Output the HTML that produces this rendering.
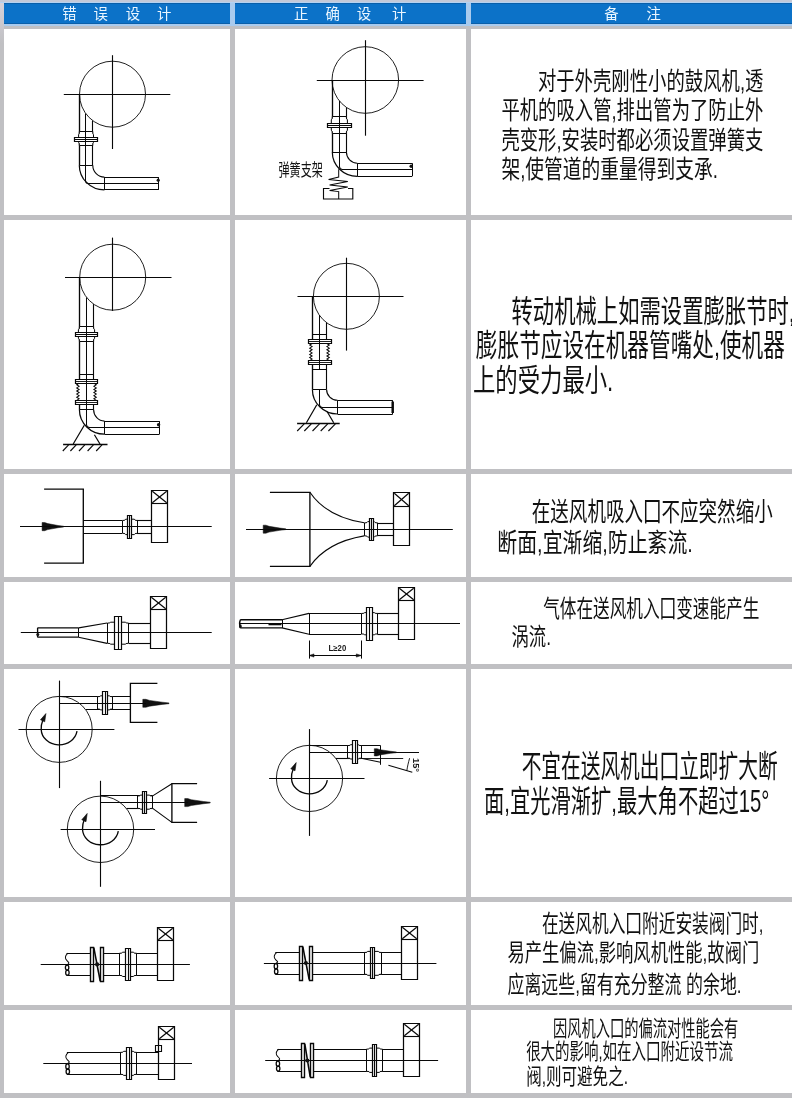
<!DOCTYPE html><html><head><meta charset="utf-8"><title>fan piping</title><style>
html,body{margin:0;padding:0}body{width:792px;height:1098px;position:relative;overflow:hidden;background:#c0c0c3;font-family:"Liberation Sans",sans-serif}
.c{position:absolute;background:#fff}.h{position:absolute;top:3px;height:20.5px;background:#0c72c8;box-shadow:inset 0 1px 0 #0a5fa9,inset 0 -1px 0 #0a5fa9}
.u{position:absolute;top:23.5px;height:2px;background:#a9cbee}
svg{position:absolute;left:0;top:0;filter:blur(0.3px)}
svg text{font-family:"Liberation Sans","Noto Sans CJK SC",sans-serif;stroke:none}
</style></head><body>
<div style="position:absolute;left:0;top:0;width:792px;height:3px;background:#c3c9d8"></div>
<div style="position:absolute;left:0;top:2px;width:792px;height:1px;background:#b4d2f2"></div>
<div style="position:absolute;left:0;top:3px;width:4px;height:40px;background:linear-gradient(#d6d2da,#c0c0c3)"></div>
<div class="h" style="left:4px;width:226px"></div>
<div class="u" style="left:4px;width:226px"></div>
<div class="h" style="left:235px;width:231px"></div>
<div class="u" style="left:235px;width:231px"></div>
<div class="h" style="left:471px;width:321px"></div>
<div class="u" style="left:471px;width:321px"></div>
<div style="position:absolute;left:230px;top:3px;width:5px;height:22.5px;background:#a9cbee"></div>
<div style="position:absolute;left:466px;top:3px;width:5px;height:22.5px;background:#a9cbee"></div>
<div class="c" style="left:4px;top:28.5px;width:226px;height:186.5px"></div>
<div class="c" style="left:235px;top:28.5px;width:231px;height:186.5px"></div>
<div class="c" style="left:471px;top:28.5px;width:321px;height:186.5px"></div>
<div class="c" style="left:4px;top:220px;width:226px;height:249px"></div>
<div class="c" style="left:235px;top:220px;width:231px;height:249px"></div>
<div class="c" style="left:471px;top:220px;width:321px;height:249px"></div>
<div class="c" style="left:4px;top:474px;width:226px;height:103px"></div>
<div class="c" style="left:235px;top:474px;width:231px;height:103px"></div>
<div class="c" style="left:471px;top:474px;width:321px;height:103px"></div>
<div class="c" style="left:4px;top:582px;width:226px;height:82px"></div>
<div class="c" style="left:235px;top:582px;width:231px;height:82px"></div>
<div class="c" style="left:471px;top:582px;width:321px;height:82px"></div>
<div class="c" style="left:4px;top:669px;width:226px;height:228px"></div>
<div class="c" style="left:235px;top:669px;width:231px;height:228px"></div>
<div class="c" style="left:471px;top:669px;width:321px;height:228px"></div>
<div class="c" style="left:4px;top:902px;width:226px;height:103px"></div>
<div class="c" style="left:235px;top:902px;width:231px;height:103px"></div>
<div class="c" style="left:471px;top:902px;width:321px;height:103px"></div>
<div class="c" style="left:4px;top:1010px;width:226px;height:83px"></div>
<div class="c" style="left:235px;top:1010px;width:231px;height:83px"></div>
<div class="c" style="left:471px;top:1010px;width:321px;height:83px"></div>
<svg width="792" height="1098" viewBox="0 0 792 1098">
<g fill="none" stroke="#080808" stroke-linecap="butt" stroke-linejoin="miter">
<text x="62.3" y="19.47" font-size="14.4" fill="#eaf6ff">错</text>
<text x="93.4" y="19.47" font-size="14.4" fill="#eaf6ff">误</text>
<text x="125.8" y="19.47" font-size="14.4" fill="#eaf6ff">设</text>
<text x="157.1" y="19.47" font-size="14.4" fill="#eaf6ff">计</text>
<text x="294.1" y="19.47" font-size="14.4" fill="#eaf6ff">正</text>
<text x="325.4" y="19.47" font-size="14.4" fill="#eaf6ff">确</text>
<text x="356.8" y="19.47" font-size="14.4" fill="#eaf6ff">设</text>
<text x="392.1" y="19.47" font-size="14.4" fill="#eaf6ff">计</text>
<text x="604.3" y="19.47" font-size="14.4" fill="#eaf6ff">备</text>
<text x="646.5" y="19.47" font-size="14.4" fill="#eaf6ff">注</text>
<circle cx="112.5" cy="94.2" r="33.0" stroke-width="0.9"/>
<path d="M63.8 94.5L170.3 94.5" stroke-width="1.12" />
<path d="M112.5 55.2L112.5 149.0" stroke-width="1.12" />
<path d="M79.5 94.2L79.5 165.2" stroke-width="1.34" />
<path d="M92.5 120.7L92.5 165.2" stroke-width="1.12" />
<path d="M79.3 165.5L92.8 165.5" stroke-width="1.01" />
<path d="M79.3 165.2A25.1 24.7 0 0 0 104.4 189.9" stroke-width="1.23" />
<path d="M92.8 165.2A11.6 11.9 0 0 0 104.4 177.1" stroke-width="1.12" />
<path d="M104.5 177.1L104.5 189.9" stroke-width="1.01" />
<path d="M104.4 177.5L158.4 177.5" stroke-width="1.23" />
<path d="M104.4 189.5L158.4 189.5" stroke-width="1.23" />
<path d="M158.5 177.1L158.5 189.9" stroke-width="1.01" />
<path d="M79.3 131.5V133.0Q79.3 134.0 78.6 134.7V142.3Q79.3 143.0 79.3 144.0V145.5H92.8V144.0Q92.8 143.0 93.5 142.3V134.7Q92.8 134.0 92.8 133.0V131.5Z" fill="#fff" stroke-width="1"/>
<path d="M74.5 137.5H97.5V141.5H74.5Z" fill="#fff" stroke-width="1.2"/>
<path d="M74.5 139.5L97.5 139.5" stroke-width="1.01" />
<circle cx="158.2" cy="180.2" r="1.6" fill="#111" stroke="none"/>
<circle cx="365.3" cy="80.0" r="33.3" stroke-width="0.9"/>
<path d="M316.8 80.5L423.6 80.5" stroke-width="1.12" />
<path d="M365.5 40.2L365.5 135.7" stroke-width="1.12" />
<path d="M332.5 80.0L332.5 152.1" stroke-width="1.34" />
<path d="M346.5 107.4L346.5 152.1" stroke-width="1.12" />
<path d="M332.3 152.5L346.4 152.5" stroke-width="1.01" />
<path d="M332.3 152.1A25.0 24.2 0 0 0 357.3 176.3" stroke-width="1.23" />
<path d="M346.4 152.1A10.9 11.1 0 0 0 357.3 163.2" stroke-width="1.12" />
<path d="M357.5 163.2L357.5 176.3" stroke-width="1.01" />
<path d="M357.3 163.5L412.0 163.5" stroke-width="1.23" />
<path d="M357.3 176.5L412.0 176.5" stroke-width="1.23" />
<path d="M412.5 163.2L412.5 176.3" stroke-width="1.01" />
<path d="M332.3 116.5V118.0Q332.3 119.0 331.3 119.7V130.3Q332.3 131.0 332.3 132.0V133.5H346.4V132.0Q346.4 131.0 347.4 130.3V119.7Q346.4 119.0 346.4 118.0V116.5Z" fill="#fff" stroke-width="1"/>
<path d="M327.5 123.5H351.5V127.5H327.5Z" fill="#fff" stroke-width="1.2"/>
<path d="M327.5 125.5L351.5 125.5" stroke-width="1.01" />
<circle cx="411.2" cy="166.3" r="1.7" fill="#111" stroke="none"/>
<path d="M338.7 169.3V177L328.6 179.6L347.8 181.6L329.6 185L347.8 187L329.6 190.5L338.7 191.6V199" stroke-width="1.01" />
<path d="M329.5 188.5H323.5V199H352.8V188.5H348" stroke-width="1.12" />
<text x="278.5" y="176.21" font-size="17.4" fill="#111" textLength="44.3" lengthAdjust="spacingAndGlyphs">弹簧支架</text>
<text x="537.88" y="89.68" font-size="24.94" fill="#111" textLength="225.5" lengthAdjust="spacingAndGlyphs">对于外壳刚性小的鼓风机,透</text>
<text x="501.4" y="119.48" font-size="24.94" fill="#111" textLength="262" lengthAdjust="spacingAndGlyphs">平机的吸入管,排出管为了防止外</text>
<text x="501.4" y="148.78" font-size="24.94" fill="#111" textLength="262" lengthAdjust="spacingAndGlyphs">壳变形,安装时都必须设置弹簧支</text>
<text x="501.4" y="178.48" font-size="24.94" fill="#111" textLength="216.5" lengthAdjust="spacingAndGlyphs">架,使管道的重量得到支承.</text>
<circle cx="112.7" cy="277.2" r="33.0" stroke-width="0.9"/>
<path d="M65.0 277.5L171.5 277.5" stroke-width="1.12" />
<path d="M112.5 237.6L112.5 310.9" stroke-width="1.12" />
<path d="M79.5 277.2L79.5 409.5" stroke-width="1.34" />
<path d="M93.5 304.1L93.5 409.5" stroke-width="1.12" />
<path d="M79.4 409.5L93.6 409.5" stroke-width="1.01" />
<path d="M79.4 409.5A25.1 24.7 0 0 0 104.5 434.2" stroke-width="1.23" />
<path d="M93.6 409.5A10.9 11.6 0 0 0 104.5 421.1" stroke-width="1.12" />
<path d="M104.5 421.1L104.5 434.2" stroke-width="1.01" />
<path d="M104.5 421.5L159.4 421.5" stroke-width="1.23" />
<path d="M104.5 434.5L159.4 434.5" stroke-width="1.23" />
<path d="M159.5 421.1L159.5 434.2" stroke-width="1.01" />
<path d="M79.4 326.5V328.0Q79.4 329.0 78.4 329.7V338.3Q79.4 339.0 79.4 340.0V341.5H93.6V340.0Q93.6 339.0 94.6 338.3V329.7Q93.6 329.0 93.6 328.0V326.5Z" fill="#fff" stroke-width="1"/>
<path d="M75.5 332.5H97.5V336.5H75.5Z" fill="#fff" stroke-width="1.2"/>
<path d="M75.5 334.5L97.5 334.5" stroke-width="1.01" />
<path d="M77.9 383.2H95.1V400.4H77.9Z" fill="#fff" stroke="none"/>
<path d="M79.4 374.5L93.6 374.5" stroke-width="1.01" />
<path d="M79.4 409.5L93.6 409.5" stroke-width="1.01" />
<path d="M75.5 379.5H97.5V383.5H75.5Z" fill="#fff" stroke-width="1.2"/>
<path d="M75.5 400.5H97.5V404.5H75.5Z" fill="#fff" stroke-width="1.2"/>
<path d="M75.2 381.5L97.9 381.5" stroke-width="0.90" />
<path d="M75.2 402.5L97.9 402.5" stroke-width="0.90" />
<path d="M79.1 383.2L76.7 384.8L79.1 386.3L76.7 387.9L79.1 389.5L76.7 391.0L79.1 392.6L76.7 394.1L79.1 395.7L76.7 397.3L79.1 398.8L76.7 400.4" stroke-width="1.01" />
<path d="M93.9 383.2L96.3 384.8L93.9 386.3L96.3 387.9L93.9 389.5L96.3 391.0L93.9 392.6L96.3 394.1L93.9 395.7L96.3 397.3L93.9 398.8L96.3 400.4" stroke-width="1.01" />
<circle cx="158.6" cy="424.8" r="1.7" fill="#111" stroke="none"/>
<path d="M84.3 425.2L73.2 444M94.4 434.7L100 444" stroke-width="1.23" />
<path d="M63.1 444.5L107.5 444.5" stroke-width="1.46" />
<path d="M68.6 444.8L62.8 451.0" stroke-width="1.12" />
<path d="M76.2 444.8L70.4 451.0" stroke-width="1.12" />
<path d="M84.8 444.8L79.0 451.0" stroke-width="1.12" />
<path d="M93.4 444.8L87.6 451.0" stroke-width="1.12" />
<path d="M102.0 444.8L96.2 451.0" stroke-width="1.12" />
<circle cx="346.4" cy="296.3" r="33.0" stroke-width="0.9"/>
<path d="M297.5 296.5L403.5 296.5" stroke-width="1.12" />
<path d="M346.5 257.7L346.5 350.6" stroke-width="1.12" />
<path d="M312.5 296.3L312.5 389.4" stroke-width="1.34" />
<path d="M326.5 322.7L326.5 389.4" stroke-width="1.12" />
<path d="M312.4 389.5L326.6 389.5" stroke-width="1.01" />
<path d="M312.4 389.4A25.1 24.6 0 0 0 337.5 414.0" stroke-width="1.23" />
<path d="M326.6 389.4A10.9 10.9 0 0 0 337.5 400.3" stroke-width="1.12" />
<path d="M337.5 400.3L337.5 414.0" stroke-width="1.01" />
<path d="M337.5 400.5L392.7 400.5" stroke-width="1.23" />
<path d="M337.5 414.5L392.7 414.5" stroke-width="1.23" />
<path d="M392.5 400.3L392.5 414.0" stroke-width="1.01" />
<path d="M310.9 343.5H328.1V360.7H310.9Z" fill="#fff" stroke="none"/>
<path d="M312.4 334.5L326.6 334.5" stroke-width="1.01" />
<path d="M312.4 369.5L326.6 369.5" stroke-width="1.01" />
<path d="M308.5 339.5H331.5V343.5H308.5Z" fill="#fff" stroke-width="1.2"/>
<path d="M308.5 360.5H331.5V364.5H308.5Z" fill="#fff" stroke-width="1.2"/>
<path d="M308.0 341.5L331.0 341.5" stroke-width="0.90" />
<path d="M308.0 362.5L331.0 362.5" stroke-width="0.90" />
<path d="M312.1 343.5L309.7 345.1L312.1 346.6L309.7 348.2L312.1 349.8L309.7 351.3L312.1 352.9L309.7 354.4L312.1 356.0L309.7 357.6L312.1 359.1L309.7 360.7" stroke-width="1.01" />
<path d="M326.9 343.5L329.3 345.1L326.9 346.6L329.3 348.2L326.9 349.8L329.3 351.3L326.9 352.9L329.3 354.4L326.9 356.0L329.3 357.6L326.9 359.1L329.3 360.7" stroke-width="1.01" />
<path d="M392.7 401.5V413" stroke-width="2.46" />
<path d="M316.8 404.7L306.4 422.7M327.2 411.8L333.7 422.7" stroke-width="1.23" />
<path d="M297.1 423.5L339.7 423.5" stroke-width="1.46" />
<path d="M304.2 423.8L297.2 431.0" stroke-width="1.12" />
<path d="M311.3 423.8L304.3 431.0" stroke-width="1.12" />
<path d="M319.5 423.8L312.5 431.0" stroke-width="1.12" />
<path d="M327.7 423.8L320.7 431.0" stroke-width="1.12" />
<path d="M335.4 423.8L328.4 431.0" stroke-width="1.12" />
<text x="511.54" y="321.81" font-size="30.74" fill="#111" textLength="283.2" lengthAdjust="spacingAndGlyphs">转动机械上如需设置膨胀节时,</text>
<text x="475.86" y="356.27" font-size="30.74" fill="#111" textLength="309" lengthAdjust="spacingAndGlyphs">膨胀节应设在机器管嘴处,使机器</text>
<text x="473.03" y="390.72" font-size="30.74" fill="#111" textLength="140.3" lengthAdjust="spacingAndGlyphs">上的受力最小.</text>
<path d="M44.1 489.1H83.3V563.2H44.1" stroke-width="1.34" />
<path d="M42.1 522.5L44.7 522.5L47.7 523.6L58.1 525.5L63.7 526.2L63.7 527.0L58.1 527.7L47.7 529.6L44.7 530.7L42.1 530.7Z" fill="#111" stroke="#111" stroke-width="0.5"/>
<path d="M83.3 520.5L122.0 520.5" stroke-width="1.23" />
<path d="M83.3 533.5L122.0 533.5" stroke-width="1.23" />
<path d="M122.5 520.4H124.0Q125.0 520.4 125.7 519.2H134.3Q135.0 520.4 136.0 520.4H137.5V533.4H136.0Q135.0 533.4 134.3 534.6H125.7Q125.0 533.4 124.0 533.4H122.5Z" fill="#fff" stroke-width="1"/>
<path d="M127.5 515.5H131.5V538.5H127.5Z" fill="#fff" stroke-width="1.2"/>
<path d="M129.5 515.5L129.5 538.5" stroke-width="1.12" />
<path d="M137.0 520.5L151.2 520.5" stroke-width="1.12" />
<path d="M137.0 533.5L151.2 533.5" stroke-width="1.12" />
<path d="M151.5 490.5H167.5V542.5H151.5Z" stroke-width="1.23" />
<path d="M151.5 503.5L167.5 503.5" stroke-width="1.12" />
<path d="M152.3 491.3L166.7 502.7" stroke-width="1.18" />
<path d="M166.7 491.3L152.3 502.7" stroke-width="1.18" />
<path d="M269.9 492.3H309.9V566.4H269.9" stroke-width="1.34" />
<path d="M263.2 525.2L265.9 525.2L269.1 526.3L279.9 528.1L285.8 528.8L285.8 529.6L279.9 530.3L269.1 532.1L265.9 533.2L263.2 533.2Z" fill="#111" stroke="#111" stroke-width="0.5"/>
<path d="M309.9 492.3C322 510 340 519 364.2 522.8" stroke-width="1.12" />
<path d="M309.9 566.4C322 549 340 540 364.2 535.9" stroke-width="1.12" />
<path d="M364.5 522.8H366.0Q367.0 522.8 367.7 521.6H374.3Q375.0 522.8 376.0 522.8H377.5V535.9H376.0Q375.0 535.9 374.3 537.1H367.7Q367.0 535.9 366.0 535.9H364.5Z" fill="#fff" stroke-width="1"/>
<path d="M369.5 518.5H373.5V540.5H369.5Z" fill="#fff" stroke-width="1.2"/>
<path d="M371.5 518.5L371.5 540.5" stroke-width="1.12" />
<path d="M377.9 523.5L393.3 523.5" stroke-width="1.12" />
<path d="M377.9 535.5L393.3 535.5" stroke-width="1.12" />
<path d="M393.5 492.5H409.5V545.5H393.5Z" stroke-width="1.23" />
<path d="M393.5 506.5L409.5 506.5" stroke-width="1.12" />
<path d="M394.3 493.3L408.7 505.7" stroke-width="1.18" />
<path d="M408.7 493.3L394.3 505.7" stroke-width="1.18" />
<text x="531.8" y="521.34" font-size="26.68" fill="#111" textLength="240.9" lengthAdjust="spacingAndGlyphs">在送风机吸入囗不应突然缩小</text>
<text x="497.35" y="551.74" font-size="26.68" fill="#111" textLength="195.5" lengthAdjust="spacingAndGlyphs">断面,宜渐缩,防止紊流.</text>
<path d="M37.4 627.9H78.6M37.4 637.2H78.6M37.6 627.9V637.2" stroke-width="1.34" />
<circle cx="37.8" cy="634.5" r="1.5" fill="#111" stroke="none"/>
<path d="M78.5 627.9L78.5 637.2" stroke-width="1.01" />
<path d="M78.6 627.9L107.1 623M78.6 637.2L107.1 643.4" stroke-width="1.12" />
<path d="M107.5 623.0H109.0Q110.0 623.0 110.7 622.2H125.3Q126.0 623.0 127.0 623.0H128.5V643.4H127.0Q126.0 643.4 125.3 644.2H110.7Q110.0 643.4 109.0 643.4H107.5Z" fill="#fff" stroke-width="1"/>
<path d="M114.5 616.5H121.5V649.5H114.5Z" fill="#fff" stroke-width="1.2"/>
<path d="M118.5 616.5L118.5 649.5" stroke-width="1.12" />
<path d="M128.9 623.5L150.1 623.5" stroke-width="1.12" />
<path d="M128.9 643.5L150.1 643.5" stroke-width="1.12" />
<path d="M150.5 596.5H166.5V648.5H150.5Z" stroke-width="1.23" />
<path d="M150.5 609.5L166.5 609.5" stroke-width="1.12" />
<path d="M151.3 597.3L165.7 608.7" stroke-width="1.18" />
<path d="M165.7 597.3L151.3 608.7" stroke-width="1.18" />
<path d="M240.4 619.8H282M240.4 627.9H282M240.4 619.8Q238.8 623.8 240.4 627.9" stroke-width="1.40" />
<ellipse cx="240.4" cy="626.2" rx="1.3" ry="2.0" fill="#111" stroke="none"/>
<path d="M268.5 624.5L281.5 624.5" stroke-width="1.57" />
<path d="M282.5 619.8L282.5 627.9" stroke-width="1.01" />
<path d="M282 619.8L309 613.4M282 627.9L309 634.3" stroke-width="1.12" />
<path d="M309.0 613.5L361.3 613.5" stroke-width="1.12" />
<path d="M309.0 634.5L361.3 634.5" stroke-width="1.12" />
<path d="M309.5 613.4L309.5 634.0" stroke-width="1.01" />
<path d="M309.5 640.5L309.5 658.6" stroke-width="1.01" />
<path d="M361.5 640.5L361.5 658.6" stroke-width="1.01" />
<path d="M361.5 613.4H363.0Q364.0 613.4 364.7 612.6H374.3Q375.0 613.4 376.0 613.4H377.5V634.0H376.0Q375.0 634.0 374.3 634.8H364.7Q364.0 634.0 363.0 634.0H361.5Z" fill="#fff" stroke-width="1"/>
<path d="M366.5 607.5H372.5V640.5H366.5Z" fill="#fff" stroke-width="1.2"/>
<path d="M369.5 607.5L369.5 640.5" stroke-width="1.12" />
<path d="M377.3 613.5L398.2 613.5" stroke-width="1.12" />
<path d="M377.3 634.5L398.2 634.5" stroke-width="1.12" />
<path d="M398.5 587.5H414.5V639.5H398.5Z" stroke-width="1.23" />
<path d="M398.5 600.5L414.5 600.5" stroke-width="1.12" />
<path d="M399.3 588.3L413.7 599.7" stroke-width="1.18" />
<path d="M413.7 588.3L399.3 599.7" stroke-width="1.18" />
<path d="M309.0 655.5L361.3 655.5" stroke-width="1.01" />
<path d="M309 655.5l5 -1.6v3.2zM361.3 655.5l-5 -1.6v3.2z" fill="#111" stroke-width="0.5"/>
<text x="328.6" y="651.47" font-size="8.3" font-weight="bold" fill="#1a1a1a" textLength="17.6" lengthAdjust="spacingAndGlyphs">L≥20</text>
<text x="543.15" y="617.04" font-size="23.78" fill="#111" textLength="216.2" lengthAdjust="spacingAndGlyphs">气体在送风机入囗变速能产生</text>
<text x="511.54" y="644.54" font-size="23.78" fill="#111" textLength="39.5" lengthAdjust="spacingAndGlyphs">涡流.</text>
<circle cx="59.2" cy="729.4" r="33.0" stroke-width="0.9"/>
<path d="M18.5 729.5L114.4 729.5" stroke-width="1.12" />
<path d="M59.5 680.6L59.5 788.1" stroke-width="1.12" />
<path d="M77.0 731.2A18 16 0 0 1 41.2 729.4Q41.0 724.4 42.9 719.9" stroke-width="1.34" />
<path d="M45.9 713.6L44.7 721.8L40.5 719.8Z" fill="#111" stroke-width="0.6"/>
<path d="M59.2 696.5L130.3 696.5" stroke-width="1.12" />
<path d="M86.0 709.5L130.3 709.5" stroke-width="1.12" />
<path d="M97.5 696.6H99.0Q100.0 696.6 100.7 695.8H109.3Q110.0 696.6 111.0 696.6H112.5V709.1H111.0Q110.0 709.1 109.3 709.9H100.7Q100.0 709.1 99.0 709.1H97.5Z" fill="#fff" stroke-width="1"/>
<path d="M102.5 691.5H107.5V714.5H102.5Z" fill="#fff" stroke-width="1.2"/>
<path d="M105.5 691.5L105.5 714.5" stroke-width="1.12" />
<path d="M157.4 683.3H130.4V722.3H157.4" stroke-width="1.34" />
<path d="M142.8 699.3L145.9 699.3L149.6 700.4L162.2 702.2L169.0 702.9L169.0 703.7L162.2 704.4L149.6 706.2L145.9 707.3L142.8 707.3Z" fill="#111" stroke="#111" stroke-width="0.5"/>
<circle cx="100.5" cy="829.3" r="33.2" stroke-width="0.9"/>
<path d="M60.6 829.5L155.0 829.5" stroke-width="1.12" />
<path d="M100.5 780.8L100.5 886.8" stroke-width="1.12" />
<path d="M118.3 831.1A18 16 0 0 1 82.5 829.3Q82.3 824.3 84.2 819.8" stroke-width="1.34" />
<path d="M87.2 813.5L86.0 821.7L81.8 819.7Z" fill="#111" stroke-width="0.6"/>
<path d="M100.6 795.5L152.7 795.5" stroke-width="1.12" />
<path d="M126.5 808.5L152.7 808.5" stroke-width="1.12" />
<path d="M137.5 795.9H139.0Q140.0 795.9 140.7 795.1H149.3Q150.0 795.9 151.0 795.9H152.5V808.4H151.0Q150.0 808.4 149.3 809.2H140.7Q140.0 808.4 139.0 808.4H137.5Z" fill="#fff" stroke-width="1"/>
<path d="M142.5 791.5H146.5V813.5H142.5Z" fill="#fff" stroke-width="1.2"/>
<path d="M144.5 791.5L144.5 813.5" stroke-width="1.12" />
<path d="M152.7 795.9L171.9 783.7M152.7 808.4L171.9 822.4" stroke-width="1.12" />
<path d="M197.1 783.7H171.9V822.4H197.1" stroke-width="1.34" />
<path d="M184.7 798.6L187.8 798.6L191.3 799.7L203.6 801.5L210.2 802.2L210.2 803.0L203.6 803.7L191.3 805.5L187.8 806.6L184.7 806.6Z" fill="#111" stroke="#111" stroke-width="0.5"/>
<circle cx="309.5" cy="778.4" r="33.1" stroke-width="0.9"/>
<path d="M269.1 778.5L364.5 778.5" stroke-width="1.12" />
<path d="M309.5 729.1L309.5 835.9" stroke-width="1.12" />
<path d="M327.3 780.2A18 16 0 0 1 291.5 778.4Q291.3 773.4 293.2 768.9" stroke-width="1.34" />
<path d="M296.2 762.6L295.0 770.8L290.8 768.8Z" fill="#111" stroke-width="0.6"/>
<path d="M309.5 745.5L380.5 745.5" stroke-width="1.12" />
<path d="M336.0 758.5L361.1 758.5" stroke-width="1.12" />
<path d="M347.5 745.5H349.0Q350.0 745.5 350.7 744.7H358.3Q359.0 745.5 360.0 745.5H361.5V758.2H360.0Q359.0 758.2 358.3 759.0H350.7Q350.0 758.2 349.0 758.2H347.5Z" fill="#fff" stroke-width="1"/>
<path d="M352.5 740.5H357.5V763.5H352.5Z" fill="#fff" stroke-width="1.2"/>
<path d="M355.5 740.5L355.5 763.5" stroke-width="1.12" />
<path d="M380.5 745.5L380.5 764.8" stroke-width="1.01" />
<path d="M361.1 758.5L403.2 758.5" stroke-width="0.90" />
<path d="M361.1 758.2L380.5 762.3" stroke-width="1.12" />
<path d="M388.4 765.3L412.3 772.3" stroke-width="1.01" />
<path d="M409.6 758.2C408.2 763 407.4 767 406.8 770.8" stroke-width="0.90" />
<path d="M374.3 748.7L377.0 748.7L380.0 749.7L390.7 751.3L396.4 751.9L396.4 752.7L390.7 753.3L380.0 754.9L377.0 755.9L374.3 755.9Z" fill="#111" stroke="#111" stroke-width="0.5"/>
<g transform="translate(416.5 758) rotate(90)">
<text x="0" y="3.53" font-size="9.26" font-weight="bold" fill="#1a1a1a">15°</text>
</g>
<text x="521.67" y="777.48" font-size="30.74" fill="#111" textLength="255.9" lengthAdjust="spacingAndGlyphs">不宜在送风机出囗立即扩大断</text>
<text x="483.97" y="811.68" font-size="30.74" fill="#111" textLength="285.5" lengthAdjust="spacingAndGlyphs">面,宜光滑渐扩,最大角不超过15°</text>
<path d="M66.5 953.5L157.7 953.5" stroke-width="1.23" />
<path d="M66.5 975.5L157.7 975.5" stroke-width="1.23" />
<path d="M68.0 953.2C65.0 955.7 64.5 958.2 67.0 960.7S69.5 962.9 67.0 964.9" stroke-width="1.01" />
<ellipse cx="67.1" cy="967.6" rx="1.7" ry="2.5" stroke-width="1.3"/>
<ellipse cx="67.4" cy="972.7" rx="1.7" ry="2.5" stroke-width="1.3"/>
<path d="M90.1 947.2H103.6V981.5H90.1Z" fill="#fff" stroke="none"/>
<path d="M90.5 947.5H93.5V981.5H90.5Z" stroke-width="1.40" />
<path d="M100.5 947.5H103.5V981.5H100.5Z" stroke-width="1.40" />
<path d="M93.8 947.7L100.2 981.0" stroke-width="1.57" />
<path d="M119.5 953.2H121.0Q122.0 953.2 122.7 952.2H133.3Q134.0 953.2 135.0 953.2H136.5V975.5H135.0Q134.0 975.5 133.3 976.5H122.7Q122.0 975.5 121.0 975.5H119.5Z" fill="#fff" stroke-width="1"/>
<path d="M125.5 948.5H130.5V980.5H125.5Z" fill="#fff" stroke-width="1.2"/>
<path d="M128.5 948.5L128.5 980.5" stroke-width="1.12" />
<path d="M157.5 927.5H173.5V980.5H157.5Z" stroke-width="1.23" />
<path d="M157.5 940.5L173.5 940.5" stroke-width="1.12" />
<path d="M158.3 928.3L172.7 939.7" stroke-width="1.18" />
<path d="M172.7 928.3L158.3 939.7" stroke-width="1.18" />
<path d="M275.3 952.5L401.0 952.5" stroke-width="1.23" />
<path d="M275.3 974.5L401.0 974.5" stroke-width="1.23" />
<path d="M276.8 952.4C273.8 954.9 273.3 957.4 275.8 959.9S278.3 961.5 275.8 963.5" stroke-width="1.01" />
<ellipse cx="275.9" cy="966.3" rx="1.7" ry="2.6" stroke-width="1.3"/>
<ellipse cx="276.2" cy="971.4" rx="1.7" ry="2.6" stroke-width="1.3"/>
<path d="M299.2 946.1H312.6V980.2H299.2Z" fill="#fff" stroke="none"/>
<path d="M299.5 946.5H302.5V980.5H299.5Z" stroke-width="1.40" />
<path d="M309.5 946.5H312.5V980.5H309.5Z" stroke-width="1.40" />
<path d="M302.8 946.6L309.2 979.7" stroke-width="1.57" />
<path d="M364.5 952.4H366.0Q367.0 952.4 367.7 951.4H378.3Q379.0 952.4 380.0 952.4H381.5V974.3H380.0Q379.0 974.3 378.3 975.3H367.7Q367.0 974.3 366.0 974.3H364.5Z" fill="#fff" stroke-width="1"/>
<path d="M370.5 947.5H374.5V978.5H370.5Z" fill="#fff" stroke-width="1.2"/>
<path d="M372.5 947.5L372.5 978.5" stroke-width="1.12" />
<path d="M401.5 926.5H417.5V979.5H401.5Z" stroke-width="1.23" />
<path d="M401.5 939.5L417.5 939.5" stroke-width="1.12" />
<path d="M402.3 927.3L416.7 938.7" stroke-width="1.18" />
<path d="M416.7 927.3L402.3 938.7" stroke-width="1.18" />
<text x="541.94" y="932.02" font-size="24.01" fill="#111" textLength="221.5" lengthAdjust="spacingAndGlyphs">在送风机入囗附近安装阀门时,</text>
<text x="507.48" y="960.82" font-size="24.01" fill="#111" textLength="251.8" lengthAdjust="spacingAndGlyphs">易产生偏流,影响风机性能,故阀门</text>
<text x="507.48" y="993.12" font-size="24.01" fill="#111" textLength="234.1" lengthAdjust="spacingAndGlyphs">应离远些,留有充分整流 的余地.</text>
<path d="M66.9 1052.5L158.1 1052.5" stroke-width="1.23" />
<path d="M66.9 1074.5L158.1 1074.5" stroke-width="1.23" />
<path d="M68.4 1052.3C65.4 1054.8 64.9 1057.3 67.4 1059.8S69.9 1061.7 67.4 1063.7" stroke-width="1.01" />
<ellipse cx="67.5" cy="1066.5" rx="1.7" ry="2.6" stroke-width="1.3"/>
<ellipse cx="67.8" cy="1071.6" rx="1.7" ry="2.6" stroke-width="1.3"/>
<path d="M120.5 1052.3H122.0Q123.0 1052.3 123.7 1051.3H133.3Q134.0 1052.3 135.0 1052.3H136.5V1074.4H135.0Q134.0 1074.4 133.3 1075.4H123.7Q123.0 1074.4 122.0 1074.4H120.5Z" fill="#fff" stroke-width="1"/>
<path d="M126.5 1047.5H131.5V1079.5H126.5Z" fill="#fff" stroke-width="1.2"/>
<path d="M129.5 1047.5L129.5 1079.5" stroke-width="1.12" />
<path d="M158.5 1026.5H174.5V1079.5H158.5Z" stroke-width="1.23" />
<path d="M158.5 1039.5L174.5 1039.5" stroke-width="1.12" />
<path d="M159.3 1027.3L173.7 1038.7" stroke-width="1.18" />
<path d="M173.7 1027.3L159.3 1038.7" stroke-width="1.18" />
<path d="M155.5 1045.5H161.5V1051.5H155.5Z" stroke-width="1.12" />
<path d="M277.3 1049.5L403.5 1049.5" stroke-width="1.23" />
<path d="M277.3 1071.5L403.5 1071.5" stroke-width="1.23" />
<path d="M278.8 1049.1C275.8 1051.6 275.3 1054.1 277.8 1056.6S280.3 1059.0 277.8 1061.0" stroke-width="1.01" />
<ellipse cx="277.9" cy="1063.7" rx="1.7" ry="2.5" stroke-width="1.3"/>
<ellipse cx="278.2" cy="1068.6" rx="1.7" ry="2.5" stroke-width="1.3"/>
<path d="M301.3 1043.3H313.1V1077.4H301.3Z" fill="#fff" stroke="none"/>
<path d="M301.5 1043.5H304.5V1077.5H301.5Z" stroke-width="1.40" />
<path d="M310.5 1043.5H313.5V1077.5H310.5Z" stroke-width="1.40" />
<path d="M304.8 1043.8L310.2 1076.9" stroke-width="1.57" />
<path d="M366.5 1049.1H368.0Q369.0 1049.1 369.7 1048.1H379.3Q380.0 1049.1 381.0 1049.1H382.5V1071.4H381.0Q380.0 1071.4 379.3 1072.4H369.7Q369.0 1071.4 368.0 1071.4H366.5Z" fill="#fff" stroke-width="1"/>
<path d="M372.5 1044.5H376.5V1076.5H372.5Z" fill="#fff" stroke-width="1.2"/>
<path d="M374.5 1044.5L374.5 1076.5" stroke-width="1.12" />
<path d="M403.5 1023.5H419.5V1076.5H403.5Z" stroke-width="1.23" />
<path d="M403.5 1036.5L419.5 1036.5" stroke-width="1.12" />
<path d="M404.3 1024.3L418.7 1035.7" stroke-width="1.18" />
<path d="M418.7 1024.3L404.3 1035.7" stroke-width="1.18" />
<text x="552.88" y="1036.28" font-size="22.04" fill="#111" textLength="185.4" lengthAdjust="spacingAndGlyphs">因风机入囗的偏流对性能会有</text>
<text x="526.13" y="1059.18" font-size="22.04" fill="#111" textLength="206.9" lengthAdjust="spacingAndGlyphs">很大的影响,如在入囗附近设节流</text>
<text x="526.13" y="1083.78" font-size="22.04" fill="#111" textLength="101.9" lengthAdjust="spacingAndGlyphs">阀,则可避免之.</text>
<path d="M85.5 113.6V180.5Q85.5 183.5 88.5 183.5H158.4" stroke-width="1.01" />
<path d="M339.5 101.1V166.5Q339.5 169.5 342.5 169.5H412.0" stroke-width="1.01" />
<path d="M86.5 297.5V424.5Q86.5 427.5 89.5 427.5H159.4" stroke-width="1.01" />
<path d="M319.5 315.1V369.2M319.5 389.4V404.5Q319.5 407.5 322.5 407.5H392.7" stroke-width="1.01" />
<path d="M20.0 526.5L211.7 526.5" stroke-width="1.12" />
<path d="M246.0 529.5L452.8 529.5" stroke-width="1.12" />
<path d="M20.8 632.5L211.7 632.5" stroke-width="1.12" />
<path d="M239.4 623.5L460.0 623.5" stroke-width="1.12" />
<path d="M59.2 703.5L146.0 703.5" stroke-width="1.01" />
<path d="M100.6 802.5L188.0 802.5" stroke-width="1.01" />
<path d="M309.5 752.5L419.0 752.5" stroke-width="1.01" />
<path d="M40.7 964.5L189.9 964.5" stroke-width="1.12" />
<circle cx="97.1" cy="964.4" r="2.1" fill="#111" stroke="none"/>
<path d="M263.9 963.5L436.4 963.5" stroke-width="1.12" />
<circle cx="305.9" cy="963.0" r="2.1" fill="#111" stroke="none"/>
<path d="M43.3 1063.5L192.0 1063.5" stroke-width="1.12" />
<path d="M265.2 1060.5L438.1 1060.5" stroke-width="1.12" />
<circle cx="307.3" cy="1060.5" r="2.1" fill="#111" stroke="none"/>
</g></svg></body></html>
